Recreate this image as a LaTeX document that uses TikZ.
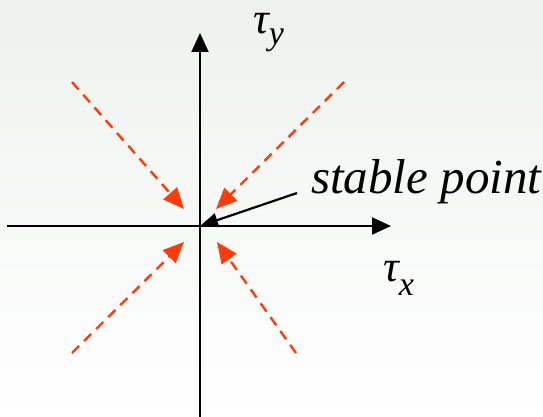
\documentclass[tikz,border=0pt]{standalone}
\usepackage{fontspec}
\setmainfont{Liberation Serif}
\usetikzlibrary{arrows.meta}
\definecolor{flowred}{RGB}{255,60,10}
\definecolor{bgtop}{RGB}{237,242,238}

\begin{document}
\begin{tikzpicture}[x=1pt, y=-1pt,
    axis/.style={line width=2pt, -{Triangle[length=19pt, width=17pt]}},
    flow/.style={flowred, line width=2.4pt, dash pattern=on 10pt off 7pt,
        -{Triangle[length=21pt, width=18pt]}},
    pointer/.style={line width=2.2pt, -{Triangle[length=18pt, width=14pt]}},
    lbl/.style={inner sep=0pt, anchor=base west}]
    \path[use as bounding box, top color=bgtop, bottom color=white]
        (0,0) rectangle (543,417);

    \coordinate (O) at (200,226);
    \coordinate (XL) at (7,226);
    \coordinate (XR) at (391,226);
    \coordinate (YB) at (200,417);
    \coordinate (YT) at (200,33);

    % axes
    \draw[axis] (XL) -- (XR);
    \draw[axis] (YB) -- (YT);

    % flows towards the origin
    \coordinate (UL) at (72,82);
    \coordinate (UR) at (344,82);
    \coordinate (LL) at (72,353);
    \coordinate (LR) at (296,353);
    \coordinate (ULt) at (184,209);
    \coordinate (URt) at (216,209);
    \coordinate (LLt) at (184,242);
    \coordinate (LRt) at (217,242);
    \draw[flow] (UL) -- (ULt);
    \draw[flow] (UR) -- (URt);
    \draw[flow] (LL) -- (LLt);
    \draw[flow] (LR) -- (LRt);

    % labels
    \node[lbl] (tauy) at (253,34)
        {\fontsize{44}{44}\selectfont\itshape τ\raisebox{-11pt}{\fontsize{34}{34}\selectfont y}};
    \node[lbl] (taux) at (383,281)
        {\fontsize{44}{44}\selectfont\itshape τ\raisebox{-14pt}{\fontsize{34}{34}\selectfont x}};
    \node[lbl] (stable) at (311,193)
        {\fontsize{49}{50}\selectfont\itshape stable point};

    \coordinate (S) at (297,193);
    \draw[pointer] (S) -- (O);
\end{tikzpicture}
\end{document}
